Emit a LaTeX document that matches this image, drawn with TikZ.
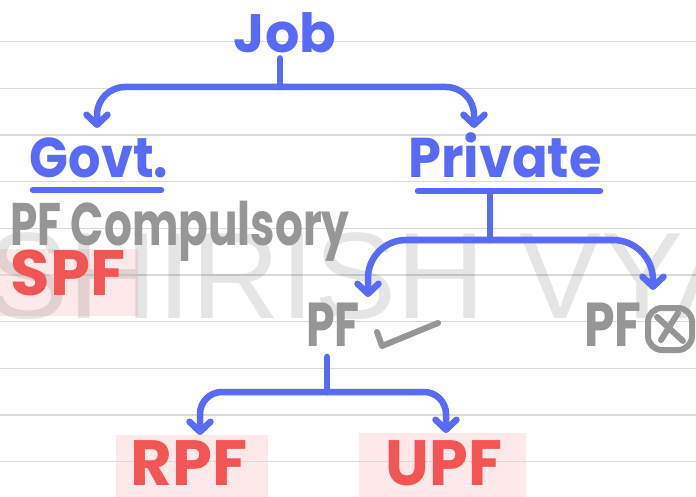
\documentclass[tikz,border=0pt]{standalone}
\usepackage{fontspec}
\setmainfont{Poppins}
\newfontfamily\wmfont{Liberation Sans}
\usetikzlibrary{arrows.meta}

\definecolor{ink}{RGB}{90,106,248}
\definecolor{redink}{RGB}{243,84,84}
\definecolor{greyink}{RGB}{150,150,150}
\definecolor{ruleline}{RGB}{218,218,218}
\definecolor{hilite}{RGB}{253,233,233}

\tikzset{
  hand/.style={inner sep=0pt, font=\bfseries\fontsize{#1}{#1}\selectfont},
  blueword/.style={hand=#1, text=ink},
  redword/.style={hand=#1, text=redink},
  greyword/.style={hand=#1, text=greyink},
  squeeze/.style={xscale=#1, transform shape},
  wire/.style={draw=ink, line width=6.5pt, line cap=round, line join=round},
  arrowwire/.style={wire, -{Straight Barb[length=10pt,width=21pt,round]}, rounded corners=#1},
  greystroke/.style={draw=greyink, line width=6pt, line cap=round, line join=round},
  ruled/.style={draw=ruleline, line width=1.4pt},
  marker/.style={fill=hilite, draw=none}
}

\begin{document}
\begin{tikzpicture}[x=1pt,y=-1pt]
  \useasboundingbox (0,0) rectangle (696,497);
  \clip (0,0) rectangle (696,497);
  \fill[white] (0,0) rectangle (696,497);

  % highlighter boxes
  \fill[marker] (0,249) rectangle (138,316);
  \fill[marker] (116,435) rectangle (268,497);
  \fill[marker] (359,433) rectangle (526,497);

  % ruled paper
  \foreach \k in {0,...,9}
    \draw[ruled] (0,{41.7+46.65*\k}) -- (696,{41.7+46.65*\k});

  % watermark
  \node[anchor=base west, inner sep=0pt, font=\wmfont\fontsize{123}{123}\selectfont,
        text=black, opacity=0.1] (wm) at (-14,318) {SHIRISH VYAS};

  % words
  \node[blueword=54] (job) at (285,33) {Job};
  \node[blueword=56, squeeze=0.91] (govt) at (99,158) {Govt.};
  \node[blueword=56, squeeze=0.94] (private) at (505,155) {Private};
  \node[greyword=60, squeeze=0.73] (pfc) at (180,231) {PF Compulsory};
  \node[redword=64] (spf) at (68,273) {SPF};
  \node[greyword=62, squeeze=0.74] (pfyes) at (333,325) {PF};
  \node[greyword=62, squeeze=0.79] (pfno) at (613,325) {PF};
  \node[redword=64] (rpf) at (189,463) {RPF};
  \node[redword=64, squeeze=0.97] (upf) at (444,463) {UPF};

  % underlines
  \draw[wire] (33,190) -- (161,190);
  \draw[wire] (418,191) -- (600,191);

  % forks and arrow ends
  \coordinate (jfork) at (280,87);
  \coordinate (pstem) at (490,191);
  \coordinate (pfork) at (490,240);
  \coordinate (qfork) at (327,392);
  \coordinate (toGovt) at (97,128);
  \coordinate (toPriv) at (474,128);
  \coordinate (toYes) at (368,297);
  \coordinate (toNo) at (653,290);
  \coordinate (toR) at (200,435);
  \coordinate (toU) at (446,433);

  % Job -> Govt / Private
  \draw[wire, shorten <=5pt] (job.south -| jfork) -- (jfork);
  \draw[arrowwire=28pt] (jfork) -| (toGovt);
  \draw[arrowwire=28pt] (jfork) -| (toPriv);

  % Private -> PF yes / PF no
  \draw[wire] (pstem) -- (pfork);
  \draw[arrowwire=38pt] (pfork) -| (toYes);
  \draw[arrowwire=40pt] (pfork) -| (toNo);

  % PF -> RPF / UPF
  \draw[wire, shorten <=10pt] (pfyes.south -| qfork) -- (qfork);
  \draw[arrowwire=22pt] (qfork) -| (toR);
  \draw[arrowwire=22pt] (qfork) -| (toU);

  % tick after PF, crossed box after PF
  \draw[greystroke] (377,332) -- (382,346) -- (438,323);
  \draw[greystroke, rounded corners=14pt] (648,308) rectangle (692,350);
  \draw[greystroke] (657,317) -- (683,341);
  \draw[greystroke] (678,313) -- (661,340);
\end{tikzpicture}
\end{document}
